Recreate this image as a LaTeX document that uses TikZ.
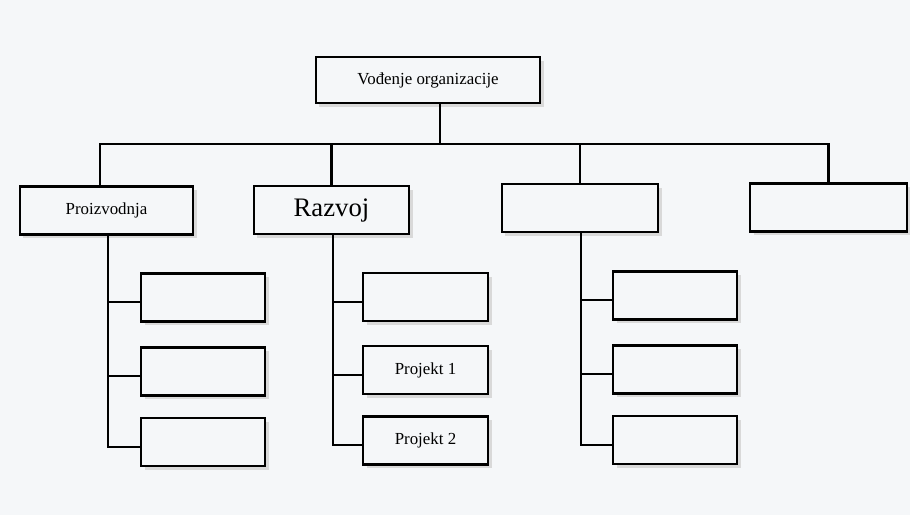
\documentclass[tikz,border=0pt]{standalone}
\usepackage{fontspec}
\setmainfont{Liberation Serif}
\usetikzlibrary{shadows}

\begin{document}
\begin{tikzpicture}[x=0.025cm,y=-0.025cm]
\definecolor{paper}{RGB}{245,247,249};
\colorlet{shade}{gray!30};
\def\orgline{1.45pt};
\def\subw{3.1cm};
\def\subh{1.2cm};
\def\drop{-0.12cm};

\tikzset{
  orgbox/.style={draw,line width=\orgline,fill=paper,inner sep=0pt,
    minimum height=1.2cm,font=\fontsize{12}{14}\selectfont,
    drop shadow={shadow xshift=2.5pt,shadow yshift=-2.5pt,fill=shade,opacity=1}},
  subbox/.style={orgbox,minimum width=\subw,minimum height=\subh},
  link/.style={line width=\orgline}
}

% paper
\fill[paper] (0,0) rectangle (910,515);
\useasboundingbox (0,0) rectangle (910,515);

% Top level
\node[orgbox,minimum width=5.6cm,minimum height=1.15cm] (top) at (428,80) {Vođenje organizacije};

% Departments
\node[orgbox,minimum width=4.325cm] (prod) at (106.5,210.5) {Proizvodnja};
\node[orgbox,minimum width=3.875cm,font=\fontsize{19}{22}\selectfont] (dev) at (331.5,210) {Razvoj};
\node[orgbox,minimum width=3.9cm] (dep3) at (580,208) {};
\node[orgbox,minimum width=3.925cm] (dep4) at (828.5,207.5) {};

% Units under Proizvodnja
\node[subbox] (prod1) at (203,297.5) {};
\node[subbox] (prod2) at (203,371.5) {};
\node[subbox] (prod3) at (203,442) {};

% Units under Razvoj
\node[subbox,minimum width=3.125cm] (dev1) at (425.5,297) {};
\node[subbox,minimum width=3.125cm] (dev2) at (425.5,370) {Projekt 1};
\node[subbox,minimum width=3.125cm] (dev3) at (425.5,440.5) {Projekt 2};

% Units under the third department
\node[subbox] (sub1) at (675,295.5) {};
\node[subbox] (sub2) at (675,369.5) {};
\node[subbox] (sub3) at (675,440) {};

% Bus
\coordinate (stem) at (440,144);
\coordinate (bus_l) at (100,144);
\coordinate (trunk_prod) at (108,0);
\coordinate (trunk_dev) at (333,0);
\coordinate (trunk_dep3) at (581,0);

\draw[link] (top.south -| stem) -- (stem);
\draw[link] (prod.north -| bus_l) -- (bus_l) -- (stem |- bus_l) -| (dep4.north);
\draw[link] (dev.north) -- (dev.north |- stem);
\draw[link] (dep3.north) -- (dep3.north |- stem);

% Branches
\foreach \unit/\trunk in {prod1/trunk_prod,prod2/trunk_prod,prod3/trunk_prod,
    dev1/trunk_dev,dev2/trunk_dev,dev3/trunk_dev,
    sub1/trunk_dep3,sub2/trunk_dep3,sub3/trunk_dep3}{
  \coordinate (\unit_in) at ([yshift=\drop]\unit.west);
  \draw[link] (\trunk |- \unit_in) -- (\unit_in);
}

\draw[link] (prod.south -| trunk_prod) |- (prod3_in);
\draw[link] (dev.south -| trunk_dev) |- (dev3_in);
\draw[link] (dep3.south -| trunk_dep3) |- (sub3_in);
\end{tikzpicture}
\end{document}
